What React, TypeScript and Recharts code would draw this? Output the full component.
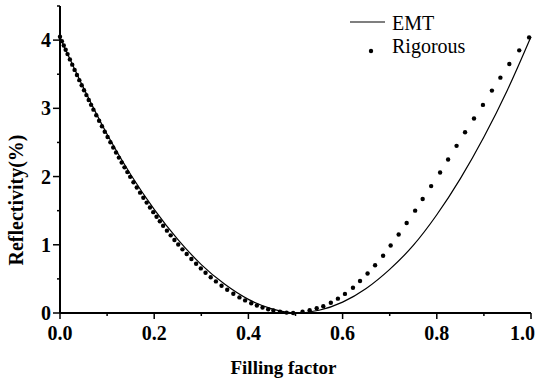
import { ComposedChart, Line, Scatter, XAxis, YAxis, Legend } from "recharts";

// Rigorous calculation (dots): filling factor and reflectivity in %
const RIGOROUS_F = [
  0, 0.004, 0.008, 0.012, 0.016, 0.021, 0.026, 0.031, 0.036, 0.041, 0.046, 0.051,
  0.056, 0.061, 0.066, 0.071, 0.077, 0.083, 0.089, 0.095, 0.101, 0.107, 0.113, 0.119,
  0.125, 0.131, 0.137, 0.143, 0.149, 0.156, 0.163, 0.17, 0.177, 0.184, 0.191, 0.198,
  0.205, 0.212, 0.219, 0.227, 0.235, 0.243, 0.251, 0.26, 0.269, 0.279, 0.289, 0.299,
  0.309, 0.32, 0.331, 0.343, 0.355, 0.368, 0.381, 0.393, 0.406, 0.418, 0.43, 0.442,
  0.453, 0.467, 0.481, 0.495, 0.515, 0.53, 0.545, 0.559, 0.575, 0.59, 0.605, 0.622,
  0.637, 0.653, 0.669, 0.686, 0.702, 0.719, 0.736, 0.754, 0.77, 0.788, 0.807, 0.824,
  0.842, 0.86, 0.879, 0.898, 0.917, 0.935, 0.954, 0.975, 0.996,
];
const RIGOROUS_R = [
  4.05, 3.985, 3.921, 3.858, 3.795, 3.717, 3.64, 3.563, 3.488, 3.413, 3.339, 3.266,
  3.194, 3.122, 3.051, 2.981, 2.899, 2.817, 2.737, 2.657, 2.579, 2.502, 2.426, 2.352,
  2.278, 2.206, 2.135, 2.065, 1.996, 1.917, 1.84, 1.764, 1.69, 1.618, 1.547, 1.478,
  1.41, 1.344, 1.279, 1.207, 1.138, 1.07, 1.004, 0.933, 0.864, 0.791, 0.721, 0.654,
  0.591, 0.525, 0.463, 0.399, 0.341, 0.282, 0.229, 0.185, 0.143, 0.109, 0.079, 0.055,
  0.036, 0.018, 0.006, 0.001, 0.02, 0.04, 0.07, 0.1, 0.15, 0.21, 0.28, 0.37,
  0.47, 0.58, 0.7, 0.84, 0.99, 1.15, 1.32, 1.5, 1.67, 1.86, 2.06, 2.25,
  2.45, 2.65, 2.85, 3.05, 3.26, 3.45, 3.65, 3.85, 4.04,
];

// Effective medium theory (solid line)
const EMT_F = [0, 0.05, 0.1, 0.15, 0.2, 0.25, 0.3, 0.35, 0.4, 0.45, 0.5, 0.55, 0.6, 0.65, 0.7, 0.75, 0.8, 0.85, 0.9, 0.95, 1.0];
const EMT_R = [4.04, 3.3, 2.62, 2.03, 1.52, 1.08, 0.71, 0.42, 0.2, 0.06, 0.0, 0.04, 0.16, 0.36, 0.64, 0.99, 1.44, 1.97, 2.58, 3.27, 4.05];

const X_TICKS = [0, 0.1, 0.2, 0.3, 0.4, 0.5, 0.6, 0.7, 0.8, 0.9, 1.0];
const Y_TICKS = [0, 0.5, 1, 1.5, 2, 2.5, 3, 3.5, 4, 4.5];

const rigorous = RIGOROUS_F.map((f, i) => ({ f, r: RIGOROUS_R[i] }));
const emt = EMT_F.map((f, i) => ({ f, r: EMT_R[i] }));

const FONT = "'Liberation Serif', 'Times New Roman', serif";

function XTick({ x, y, payload }: any) {
  const v = payload.value;
  const major = Math.round(v * 10) % 2 === 0;
  const last = v >= 0.999;
  return (
    <g>
      <line x1={x} y1={y} x2={x} y2={y + (major ? 6 : 3)} stroke="#000" strokeWidth={1.5} />
      {major && (
        <text
          x={last ? 535 : x}
          y={y + 27}
          textAnchor={last ? "end" : "middle"}
          fontFamily={FONT}
          fontWeight="bold"
          fontSize={20}
          fill="#000"
        >
          {v.toFixed(1)}
        </text>
      )}
    </g>
  );
}

function YTick({ x, y, payload }: any) {
  const v = payload.value;
  const major = Number.isInteger(v);
  return (
    <g>
      <line x1={x} y1={y} x2={x - (major ? 7 : 3)} y2={y} stroke="#000" strokeWidth={1.5} />
      {major && (
        <text x={x - 9} y={y + 7} textAnchor="end" fontFamily={FONT} fontWeight="bold" fontSize={20} fill="#000">
          {v}
        </text>
      )}
    </g>
  );
}

function Dot({ cx, cy }: any) {
  return <circle cx={cx} cy={cy} r={2.2} fill="#000" />;
}

function KeyBox() {
  return (
    <svg width={537} height={60} style={{ display: "block" }}>
      <line x1={350} y1={22} x2={385} y2={22} stroke="#000" strokeWidth={1.2} />
      <text x={392} y={30} fontFamily={FONT} fontSize={20} fill="#000">EMT</text>
      <circle cx={371} cy={51} r={2.2} fill="#000" />
      <text x={392} y={53} fontFamily={FONT} fontSize={20} fill="#000">Rigorous</text>
    </svg>
  );
}

export default function App() {
  return (
    <div style={{ position: "absolute", left: 0, top: 0, width: 537, height: 387, background: "#fff" }}>
      <ComposedChart width={537} height={387} margin={{ top: 6, right: 6, bottom: 0, left: 0 }}>
        <XAxis
          type="number"
          dataKey="f"
          domain={[0, 1]}
          ticks={X_TICKS}
          interval={0}
          height={74}
          tickSize={0}
          tickMargin={0}
          tickLine={false}
          axisLine={{ stroke: "#000", strokeWidth: 2 }}
          tick={<XTick />}
          label={({ viewBox }: any) => (
            <text
              x={viewBox.x + viewBox.width / 2 - 12}
              y={viewBox.y + 61}
              textAnchor="middle"
              fontFamily={FONT}
              fontWeight="bold"
              fontSize={19}
              fill="#000"
            >
              Filling factor
            </text>
          )}
        />
        <YAxis
          type="number"
          domain={[0, 4.5]}
          ticks={Y_TICKS}
          interval={0}
          width={60}
          tickSize={0}
          tickMargin={0}
          tickLine={false}
          axisLine={{ stroke: "#000", strokeWidth: 2 }}
          tick={<YTick />}
          label={() => (
            <text
              x={16}
              y={200}
              transform="rotate(-90 16 200)"
              textAnchor="middle"
              dominantBaseline="central"
              fontFamily={FONT}
              fontWeight="bold"
              fontSize={20}
              fill="#000"
            >
              Reflectivity(%)
            </text>
          )}
        />
        <Legend
          layout="horizontal"
          verticalAlign="middle"
          align="center"
          content={() => <KeyBox />}
          wrapperStyle={{ left: 0, top: 0, width: 537, height: 60, pointerEvents: "none" }}
        />
        <Line
          data={emt}
          dataKey="r"
          type="monotone"
          stroke="#000"
          strokeWidth={1.2}
          dot={false}
          activeDot={false}
          isAnimationActive={false}
        />
        <Scatter data={rigorous} dataKey="r" shape={<Dot />} isAnimationActive={false} />
      </ComposedChart>
    </div>
  );
}
